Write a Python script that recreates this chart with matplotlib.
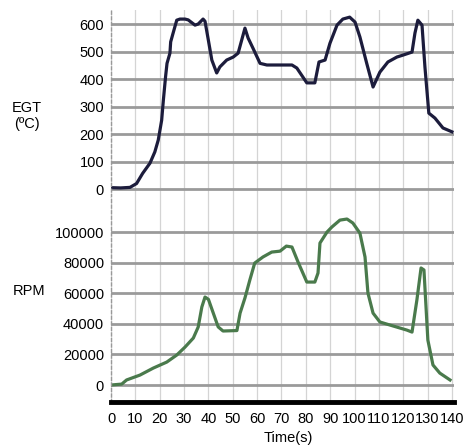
import matplotlib
matplotlib.use("Agg")
import matplotlib.pyplot as plt

plt.rcParams['font.family'] = ['Liberation Sans', 'DejaVu Sans']

# EGT trace (time in s, temperature in degC)
egt_t = [0, 4, 7.8, 10.5, 13, 16, 18, 19.4, 20.8, 21.5, 22.4, 23, 24.2, 24.5, 25.5,
         27, 28.3, 30.4, 31.7, 34.5, 35.8, 37.8, 38.6, 40, 41.4, 43.4, 44.7, 47.5,
         50.2, 52.2, 55, 56.3, 58.3, 61.2, 64, 74.3, 76.3, 80.4, 83.7, 85.4, 87.9,
         89.9, 92.8, 95.2, 98, 100.2, 102.2, 105, 107.6, 110.4, 113.7, 117.4, 119.9,
         123.6, 124.8, 126, 127.7, 128.9, 130.5, 133, 136.3, 140]
egt_v = [5, 4, 6, 20, 57, 94, 135, 178, 250, 323, 408, 457, 494, 535, 567,
         614, 618, 618, 615, 596, 600, 618, 610, 540, 469, 422, 444, 469,
         480, 494, 585, 549, 512, 457, 451, 451, 440, 386, 386, 462, 469,
         530, 596, 618, 625, 607, 553, 457, 371, 425, 462, 480, 487,
         498, 567, 614, 596, 444, 276, 258, 222, 208]

# RPM trace
rpm_t = [0, 4.4, 6.4, 11.9, 17.4, 22.9, 27, 30.4, 33.8, 35.8, 37.3, 38.6, 40, 42, 44,
         46, 51.7, 53, 55, 57, 59, 62.4, 66, 69.4, 72, 74.3, 76.8, 80.4, 83.7, 85,
         85.8, 88.7, 90.7, 94, 96.9, 99.3, 102.2, 104.3, 105.5, 107.6, 110.4, 115.8,
         121.5, 123.6, 125.6, 127.3, 128.5, 130.1, 132.2, 135, 139.2]
rpm_v = [0, 600, 3300, 6500, 11100, 15000, 19600, 24800, 30700, 37900, 51000, 57500,
         56000, 47000, 38000, 35300, 35600, 47000, 56900, 68600, 79700, 83700, 86900,
         87500, 90800, 90200, 80400, 67300, 67300, 73200, 92800, 100000, 103300,
         107800, 108500, 105900, 99300, 83700, 60100, 47000, 41200, 38600, 35900,
         34600, 55600, 76500, 75200, 29400, 13100, 7800, 3300]

egt_ticks = [0, 100, 200, 300, 400, 500, 600]
rpm_ticks = [0, 20000, 40000, 60000, 80000, 100000]
time_ticks = list(range(0, 141, 10))

W, H = 465, 445
fs = 10.5
fig = plt.figure(figsize=(W / 100, H / 100), dpi=100)

left = 111 / W
width = 343.4 / W
ax1 = fig.add_axes([left, (H - 197) / H, width, 187 / H])
ax2 = fig.add_axes([left, (H - 402) / H, width, 205 / H])

for ax in (ax1, ax2):
    ax.set_xlim(0, 141)
    ax.set_xticks(time_ticks)
    ax.grid(axis='x', color='#d4d4d4', linewidth=0.9)
    ax.grid(axis='y', color='#9a9a9a', linewidth=2.0)
    ax.set_axisbelow(True)
    for s in ('top', 'right', 'bottom'):
        ax.spines[s].set_visible(False)
    ax.spines['left'].set_color('#999999')
    ax.spines['left'].set_linestyle((0, (2, 2)))
    ax.spines['left'].set_linewidth(1.0)
    ax.tick_params(length=0, labelsize=fs, pad=5)

ax1.plot(egt_t, egt_v, color='#1c1c3c', linewidth=2.3, solid_joinstyle='round')
ax1.set_ylim(-29, 651)
ax1.set_yticks(egt_ticks)
ax1.tick_params(axis='x', labelbottom=False)

ax2.plot(rpm_t, rpm_v, color='#4a7a4c', linewidth=2.3, solid_joinstyle='round')
ax2.set_ylim(-11100, 122900)
ax2.set_yticks(rpm_ticks)
ax2.spines['bottom'].set_visible(True)
ax2.spines['bottom'].set_color('black')
ax2.spines['bottom'].set_linewidth(3.5)
ax2.tick_params(axis='x', pad=7)

fig.text(27 / W, 1 - 116 / H, 'EGT\n(ºC)', ha='center', va='center', fontsize=fs,
         linespacing=1.15)
fig.text(29 / W, 1 - 291 / H, 'RPM', ha='center', va='center', fontsize=fs)
fig.text(288 / W, 1 - 438 / H, 'Time(s)', ha='center', va='center', fontsize=fs)

fig.savefig('out.png', dpi=100)
